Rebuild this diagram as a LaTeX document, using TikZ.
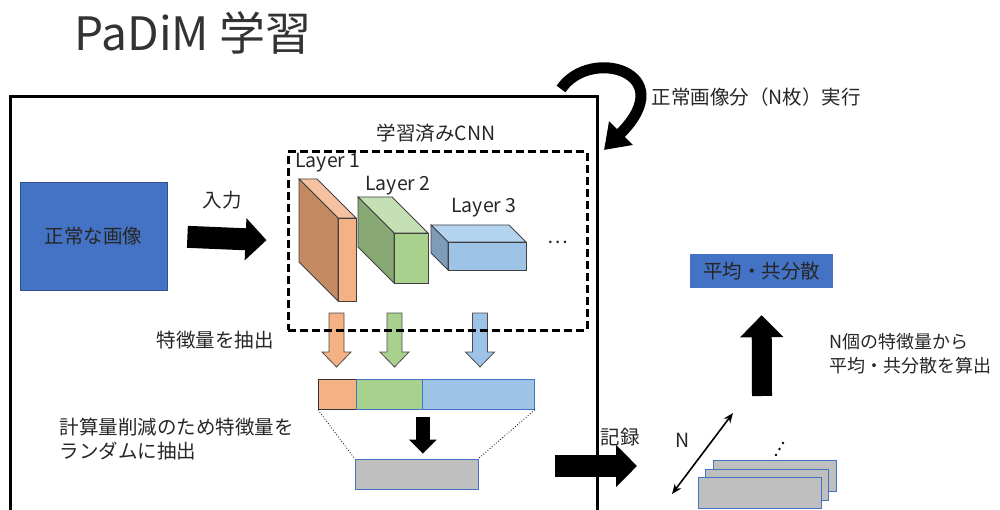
\documentclass[tikz,border=0pt]{standalone}
\usepackage{fontspec}
\setmainfont{Noto Sans CJK JP}
\usetikzlibrary{arrows.meta,calc}

\definecolor{imgblue}{HTML}{4472C4}
\definecolor{imgedge}{HTML}{2F528F}
\definecolor{txt}{HTML}{262626}
\definecolor{orF}{HTML}{F4B183}
\definecolor{orS}{HTML}{C48A62}
\definecolor{orT}{HTML}{F6C1A0}
\definecolor{grF}{HTML}{A9D18E}
\definecolor{grS}{HTML}{88A973}
\definecolor{grT}{HTML}{C5E0B4}
\definecolor{blF}{HTML}{9DC3E6}
\definecolor{blS}{HTML}{7E9CB8}
\definecolor{blT}{HTML}{B4D3EF}
\definecolor{vecgray}{HTML}{BFBFBF}

\newcommand{\bodyfont}{\fontsize{19.5}{24}\selectfont}

% cuboid: front top-left (x,y), width, height, depth, front/side/top colours
\newcommand{\cuboid}[8]{%
  \draw[edge, fill=#8] (#1,#2) -- (#1+#3,#2) -- (#1+#3-#5,#2-#5) -- (#1-#5,#2-#5) -- cycle;
  \draw[edge, fill=#7] (#1,#2) -- (#1-#5,#2-#5) -- (#1-#5,#2+#4-#5) -- (#1,#2+#4) -- cycle;
  \draw[edge, fill=#6] (#1,#2) rectangle (#1+#3,#2+#4);
}
% coloured block arrow pointing down, centred at x
\newcommand{\featarrow}[3]{%
  \draw[line width=0.8pt, draw=#3, fill=#2]
    (#1-7.5,313) -- (#1+7.5,313) -- (#1+7.5,352) -- (#1+14.5,352)
    -- (#1,367) -- (#1-14.5,352) -- (#1-7.5,352) -- cycle;
}

\begin{document}
\begin{tikzpicture}
  [
    x=1pt, y=-1pt,
    every node/.style = {text=txt, font=\bodyfont},
    edge/.style = {draw=black!75, line width=0.8pt},
    box/.style =
      {draw, rectangle, inner sep=0pt, align=center},
    vec/.style =
      {box, draw=imgblue, line width=0.8pt, fill=vecgray, minimum width=123pt, minimum height=30pt},
    bigarrow/.style =
      {line width=22pt, -{Triangle[length=21pt,width=41pt]}}
  ]
  \useasboundingbox (0,0) rectangle (1000,510);

  \node [font=\fontsize{46}{50}\selectfont, text=black!80] at (193,33) (title) {PaDiM 学習};

  \node [box, line width=3pt, minimum width=587pt, minimum height=423pt] at (303.5,308.5) (outer) {};

  % loop arrow
  \coordinate (loopa) at (561,89);
  \coordinate (loopb) at (604,150);
  \draw [line width=11pt, -{Triangle[length=24pt,width=32pt]}]
    (loopa) .. controls (590,46) and (682,72) .. (loopb);
  \node [anchor=west] at (648,97) (loop) {正常画像分（N枚）実行};

  % input image
  \node [box, draw=imgedge, line width=0.8pt, fill=imgblue, minimum width=147pt, minimum height=108pt]
    at (93.5,236) (img) {正常な画像};

  % CNN layers
  \cuboid{338}{218}{18}{83}{39}{orF}{orS}{orT}
  \cuboid{394}{233}{34}{50}{36}{grF}{grS}{grT}
  \cuboid{448}{242}{78}{28}{17}{blF}{blS}{blT}
  \node at (328,163) (l1) {Layer 1};
  \node at (398,186) (l2) {Layer 2};
  \node at (484,208) (l3) {Layer 3};
  \node at (558,242) (more) {…};

  \featarrow{336.5}{orF}{black!70}
  \featarrow{394.5}{grF}{black!70}
  \featarrow{480}{blF}{black!70}

  \node [box, line width=3pt, dash pattern=on 8pt off 4pt, minimum width=299pt, minimum height=178pt]
    at (437.5,241) (cnn) {};
  \node at (436,133) (cnnlabel) {学習済みCNN};

  \node at (222,200) (inlabel) {入力};
  \draw [bigarrow, shorten <=20pt, shorten >=20pt] (img.east) -- (cnn.west);

  % feature vector
  \node [box, draw=black!80, line width=0.8pt, fill=orF, minimum width=38pt, minimum height=30pt,
    anchor=north west] at (318,379) (fo) {};
  \node [box, draw=imgblue, line width=0.8pt, fill=grF, minimum width=66pt, minimum height=30pt,
    anchor=north west] at (356,379) (fg) {};
  \node [box, draw=imgblue, line width=0.8pt, fill=blF, minimum width=112pt, minimum height=30pt,
    anchor=north west] at (422,379) (fb) {};
  \node at (215,340) (extract) {特徴量を抽出};

  \node [vec] at (416.5,474) (pick) {};
  \draw [dotted, line width=0.8pt] (fo.south west) -- (pick.north west);
  \draw [dotted, line width=0.8pt] (fb.south east) -- (pick.north east);
  \draw [line width=14pt, -{Triangle[length=14pt,width=27pt]}, shorten <=7pt, shorten >=5pt]
    (fg.south east) -- (fg.south east|-pick.north);
  \node [anchor=north west, align=left] at (56,414) (random)
    {計算量削減のため特徴量を\\ランダムに抽出};

  % record
  \coordinate (reca) at (555,466);
  \coordinate (recb) at (637,466);
  \draw [bigarrow] (reca) -- (recb);
  \node at (620,437) (rec) {記録};

  % stored vectors
  \node [vec, minimum height=31pt] at (774.5,476) (v3) {};
  \node [vec, minimum height=31pt] at (766.5,484.5) (v2) {};
  \node [vec, minimum height=31pt] at (759.5,492.5) (v1) {};
  \fill (776,455) circle (1.3) (779.5,449) circle (1.3) (783,443) circle (1.3);

  \coordinate (na) at (672,494);
  \coordinate (nb) at (733,413);
  \draw [line width=1.6pt, {Stealth[length=10pt,width=8pt]}-{Stealth[length=10pt,width=8pt]}] (na) -- (nb);
  \node at (683,440) (n) {N};

  % statistics
  \node [box, draw=none, fill=imgblue, minimum width=143pt, minimum height=34pt]
    at (761.5,271) (stats) {平均・共分散};
  \coordinate (upa) at (762,396);
  \draw [line width=20pt, -{Triangle[length=22pt,width=42pt]}, shorten >=27pt] (upa) -- (stats.south);
  \node [anchor=west, align=left, font=\fontsize{18}{24}\selectfont] at (826,354) (calc)
    {N個の特徴量から\\平均・共分散を算出};
\end{tikzpicture}
\end{document}
